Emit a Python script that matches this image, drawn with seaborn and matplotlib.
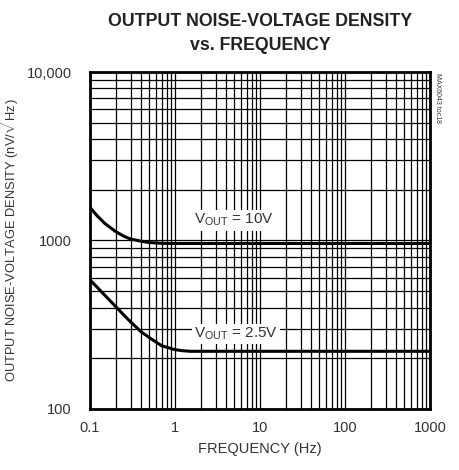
import matplotlib
matplotlib.use('Agg')
import matplotlib.pyplot as plt
import matplotlib.ticker as mtick
import numpy as np
import pandas as pd
import seaborn as sns

# values
freq_hz = [0.1, 0.12, 0.15, 0.2, 0.25, 0.3, 0.4, 0.5, 0.7, 1, 1.2, 1.5, 2, 5, 10, 100, 1000]
noise_10v = [1570, 1410, 1260, 1130, 1060, 1020, 990, 972, 962, 960, 960, 960, 960, 960, 960, 960, 960]
noise_2v5 = [583, 531, 472, 406, 361, 329, 287, 265, 237, 225, 222, 220, 220, 220, 220, 220, 220]
series_names = ['VOUT = 10V', 'VOUT = 2.5V']
x_ticks = [0.1, 1, 10, 100, 1000]
x_ticklabels = ['0.1', '1', '10', '100', '1000']
y_ticks = [100, 1000, 10000]
y_ticklabels = ['100', '1000', '10,000']

df = pd.DataFrame({
    'freq': freq_hz * 2,
    'noise': noise_10v + noise_2v5,
    'series': [series_names[0]] * len(freq_hz) + [series_names[1]] * len(freq_hz),
})

sns.set_style('white')
fonts = ['Liberation Sans', 'DejaVu Sans']
plt.rcParams['font.family'] = fonts
plt.rcParams['mathtext.fontset'] = 'custom'
plt.rcParams['mathtext.rm'] = fonts[0]
plt.rcParams['mathtext.it'] = fonts[0]

fig = plt.figure(figsize=(4.6, 4.7), dpi=100)
ax = fig.add_axes([0.1957, 0.1298, 0.7391, 0.7170])

sns.lineplot(data=df, x='freq', y='noise', units='series', estimator=None,
             color='black', linewidth=2.2, ax=ax, legend=False, zorder=3)

ax.set_xscale('log')
ax.set_yscale('log')
ax.set_xlim(0.1, 1000)
ax.set_ylim(100, 10000)

# full log grid, majors and minors alike
ax.xaxis.set_minor_locator(mtick.LogLocator(base=10, subs=np.arange(2, 10)))
ax.yaxis.set_minor_locator(mtick.LogLocator(base=10, subs=np.arange(2, 10)))
ax.grid(True, which='both', color='black', linewidth=0.9)
ax.set_axisbelow(True)

ax.set_xticks(x_ticks, labels=x_ticklabels)
ax.set_yticks(y_ticks, labels=y_ticklabels)
ax.xaxis.set_minor_formatter(mtick.NullFormatter())
ax.yaxis.set_minor_formatter(mtick.NullFormatter())
ax.tick_params(which='both', length=0, labelsize=10.5, labelcolor='#333333')
ax.tick_params(axis='x', pad=9)
ax.tick_params(axis='y', pad=13)

for sp in ax.spines.values():
    sp.set_color('black')
    sp.set_linewidth(2)

ax.set_xlabel('FREQUENCY (Hz)', fontsize=10.5, color='#333333', labelpad=5)
ax.set_ylabel(r'OUTPUT NOISE-VOLTAGE DENSITY (nV/$\sqrt{\mathrm{Hz}}$)',
              fontsize=9.3, color='#333333', labelpad=4)
ax.set_title('OUTPUT NOISE-VOLTAGE DENSITY\nvs. FREQUENCY',
             fontsize=12.8, fontweight='bold', color='#222222', pad=16,
             linespacing=1.5)

box = dict(facecolor='white', edgecolor='none', pad=1.5)
ax.text(4.9, 1320, r'V$_{\mathrm{OUT}}$ = 10V', fontsize=11, color='#333333',
        ha='center', va='center', bbox=box, zorder=4)
ax.text(5.2, 279, r'V$_{\mathrm{OUT}}$ = 2.5V', fontsize=11, color='#333333',
        ha='center', va='center', bbox=box, zorder=4)

fig.text(0.952, 0.845, 'MAX6043 toc18', rotation=-90, fontsize=5,
         color='#333333', ha='center', va='top')

fig.savefig('out.png', dpi=100)
